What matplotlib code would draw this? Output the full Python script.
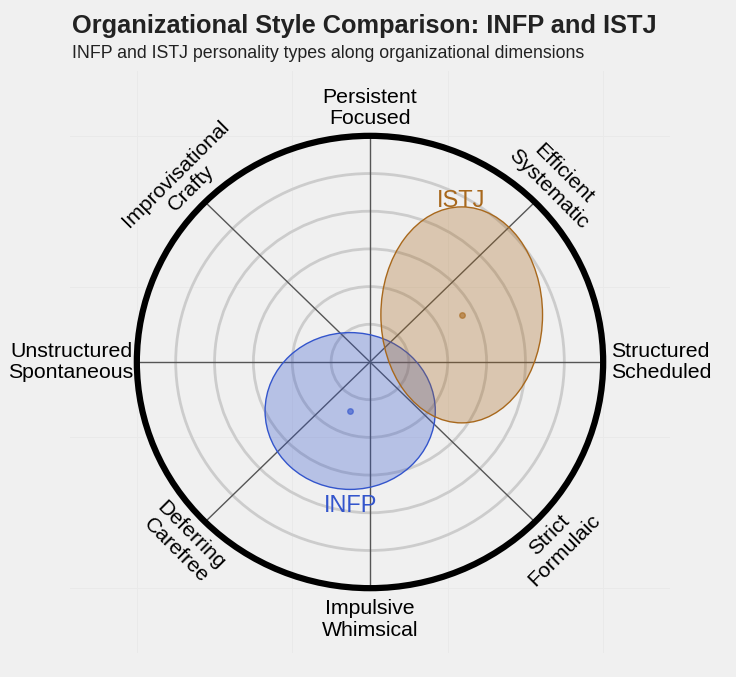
import matplotlib
matplotlib.use("Agg")
import matplotlib.pyplot as plt
from matplotlib.patches import Ellipse, Circle
import numpy as np

plt.rcParams['font.family'] = ['Liberation Sans', 'DejaVu Sans']

# ---- data ----
title = "Organizational Style Comparison: INFP and ISTJ"
subtitle = "INFP and ISTJ personality types along organizational dimensions"

axis_labels = ["Structured\nScheduled", "Efficient\nSystematic", "Persistent\nFocused",
               "Improvisational\nCrafty", "Unstructured\nSpontaneous", "Deferring\nCarefree",
               "Impulsive\nWhimsical", "Strict\nFormulaic"]
axis_angles = [0, 45, 90, 135, 180, 225, 270, 315]

ring_radii = [1, 2, 3, 4, 5]
outer_radius = 6

types = ["INFP", "ISTJ"]
center_x = [-0.51, 2.36]
center_y = [-1.30, 1.25]
ell_width = [4.38, 4.16]
ell_height = [4.16, 5.73]
type_colors = ["#3355cc", "#a8681c"]
label_x = [-0.51, 2.34]
label_y = [-3.82, 4.26]

BG = "#f0f0f0"

fig = plt.figure(figsize=(7.36, 6.77), dpi=100, facecolor=BG)
ax = fig.add_axes([70/736, 24/677, 600/736, 582/677])
ax.set_facecolor(BG)
lim = 7.72
ax.set_xlim(-lim, lim)
ax.set_ylim(-lim, lim)
ax.set_xticks([-6, -2, 2, 6])
ax.set_yticks([-6, -2, 2, 6])
ax.tick_params(length=0, labelbottom=False, labelleft=False)
ax.grid(True, color="#e9e9e9", linewidth=0.7, zorder=0)
for s in ax.spines.values():
    s.set_visible(False)

# circle background covering grid
ax.add_patch(Circle((0, 0), outer_radius, facecolor=BG, edgecolor='none', zorder=1))
for r in ring_radii:
    ax.add_patch(Circle((0, 0), r, facecolor='none', edgecolor="#cccccc", linewidth=2.0, zorder=2))

for a in axis_angles:
    t = np.deg2rad(a)
    ax.plot([0, outer_radius*np.cos(t)], [0, outer_radius*np.sin(t)],
            color="#555555", linewidth=1.0, zorder=3)

ax.add_patch(Circle((0, 0), outer_radius, facecolor='none', edgecolor="black", linewidth=4.5, zorder=6))

# ellipses
for i in range(len(types)):
    c = type_colors[i]
    ax.add_patch(Ellipse((center_x[i], center_y[i]), ell_width[i], ell_height[i],
                         facecolor=c, alpha=0.3, edgecolor='none', zorder=4))
    ax.add_patch(Ellipse((center_x[i], center_y[i]), ell_width[i], ell_height[i],
                         facecolor='none', edgecolor=c, linewidth=1.0, zorder=4))
    ax.plot(center_x[i], center_y[i], 'o', color=c, alpha=0.6, markersize=4, zorder=5)
    ax.text(label_x[i], label_y[i], types[i], color=c, fontsize=17,
            ha='center', va='center', zorder=7)

# axis labels
FS = 15.3
LS = 1.15
r_diag = 4.8
for lab, a in zip(axis_labels, axis_angles):
    t = np.deg2rad(a)
    if a == 0:
        ax.text(6.2, 0, lab, ha='left', va='center', fontsize=FS, linespacing=LS)
    elif a == 180:
        ax.text(-6.1, 0, lab, ha='right', va='center', fontsize=FS, linespacing=LS)
    elif a == 90:
        ax.text(0, 6.2, lab, ha='center', va='bottom', fontsize=FS, linespacing=LS)
    elif a == 270:
        ax.text(0, -6.3, lab, ha='center', va='top', fontsize=FS, linespacing=LS)
    else:
        x = r_diag*np.sign(np.cos(t))
        y = r_diag*np.sign(np.sin(t))
        rot = a - 90 if a < 180 else a - 270
        ax.text(x, y, lab, ha='center', va='center', fontsize=FS, rotation=rot,
                rotation_mode='anchor', linespacing=LS)

fig.text(72/736, 1 - 26/677, title, fontsize=18.3, fontweight='bold', color="#222222",
         ha='left', va='center')
fig.text(72/736, 1 - 54/677, subtitle, fontsize=12.8, color="#222222",
         ha='left', va='center')

fig.savefig("out.png", dpi=100, facecolor=BG)
